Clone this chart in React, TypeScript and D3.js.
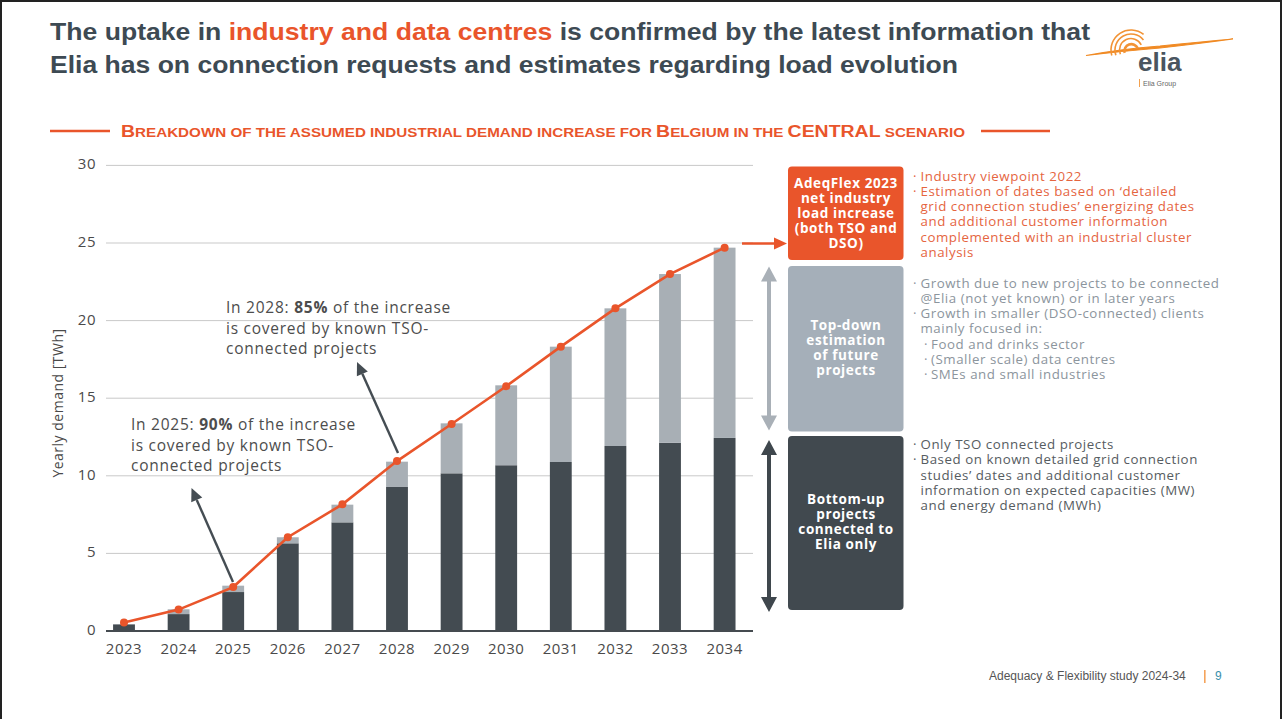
import React from "react";
import * as d3 from "d3";

const years = ["2023","2024","2025","2026","2027","2028","2029","2030","2031","2032","2033","2034"];
const bottomUp = [0.43, 1.09, 2.51, 5.65, 7.0, 9.28, 10.16, 10.68, 10.89, 11.92, 12.13, 12.44];
const barTotal = [0.45, 1.40, 2.92, 6.04, 8.14, 10.91, 13.38, 15.83, 18.32, 20.79, 23.0, 24.70];
const netLoad = [0.55, 1.38, 2.83, 6.04, 8.16, 10.95, 13.34, 15.77, 18.32, 20.79, 23.0, 24.7];
const yTicks = [0, 5, 10, 15, 20, 25, 30];

const ORANGE = "#e9552b";
const DARK = "#434b51";
const LIGHT = "#a8afb5";
const FONT = "'Open Sans', sans-serif";
const TITLE_FONT = "'Liberation Sans', Arial, sans-serif";

const boxTexts = {
  orange: ["AdeqFlex 2023", "net industry", "load increase", "(both TSO and", "DSO)"],
  gray: ["Top-down", "estimation", "of future", "projects"],
  dark: ["Bottom-up", "projects", "connected to", "Elia only"],
};
const notesOrange = [
  { b: 1, t: "Industry viewpoint 2022" },
  { b: 1, t: "Estimation of dates based on \u2018detailed" },
  { b: 0, t: "grid connection studies\u2019 energizing dates" },
  { b: 0, t: "and additional customer information" },
  { b: 0, t: "complemented with an industrial cluster" },
  { b: 0, t: "analysis" },
];
const notesGray = [
  { b: 1, t: "Growth due to new projects to be connected" },
  { b: 0, t: "@Elia (not yet known) or in later years" },
  { b: 1, t: "Growth in smaller (DSO-connected) clients" },
  { b: 0, t: "mainly focused in:" },
  { b: 2, t: "Food and drinks sector" },
  { b: 2, t: "(Smaller scale) data centres" },
  { b: 2, t: "SMEs and small industries" },
];
const notesDark = [
  { b: 1, t: "Only TSO connected projects" },
  { b: 1, t: "Based on known detailed grid connection" },
  { b: 0, t: "studies\u2019 dates and additional customer" },
  { b: 0, t: "information on expected capacities (MW)" },
  { b: 0, t: "and energy demand (MWh)" },
];

export default function App() {
  const x = d3.scaleBand<string>().domain(years).range([96.7, 751.9]).paddingInner(0.6).paddingOuter(0.3);
  const y = d3.scaleLinear().domain([0, 30]).range([631, 165.4]);
  const data = years.map((yr, i) => ({ year: yr, bottom: bottomUp[i], top: barTotal[i] - bottomUp[i] }));
  const stack = d3.stack<any>().keys(["bottom", "top"])(data);
  const line = d3.line<number>().x((_, i) => (x(years[i]) as number) + x.bandwidth() / 2).y((d) => y(d));
  const bw = x.bandwidth();

  const noteLines = (notes: { b: number; t: string }[], y0: number, color: string) =>
    notes.map((n, i) => {
      const yy = y0 + i * 15.2;
      const sub = n.b === 2;
      return (
        <g key={i} fill={color} fontFamily={FONT} fontSize={13.3} letterSpacing={0.55}>
          {n.b ? <text x={sub ? 924 : 913} y={yy} dominantBaseline="middle">·</text> : null}
          <text x={sub ? 931 : 920.5} y={yy} dominantBaseline="middle">{n.t}</text>
        </g>
      );
    });

  const boxLabel = (lines: string[], cy: number) =>
    lines.map((l, i) => (
      <text key={i} x={846} y={cy + (i - (lines.length - 1) / 2) * 15} textAnchor="middle" dominantBaseline="middle"
        fill="#fff" fontFamily={FONT} fontWeight={700} fontSize={13.5} letterSpacing={0.6}>{l}</text>
    ));

  const dbl = (xc: number, y1: number, y2: number, color: string) => {
    const hw = 8, hl = 15, sw = 2;
    const p = `M${xc},${y1} L${xc + hw},${y1 + hl} L${xc + sw},${y1 + hl} L${xc + sw},${y2 - hl} L${xc + hw},${y2 - hl} L${xc},${y2} L${xc - hw},${y2 - hl} L${xc - sw},${y2 - hl} L${xc - sw},${y1 + hl} L${xc - hw},${y1 + hl} Z`;
    return <path d={p} fill={color} />;
  };

  const arrow = (x1: number, y1: number, x2: number, y2: number) => {
    const a = Math.atan2(y2 - y1, x2 - x1);
    const hl = 13, hw = 6;
    const bx = x2 - hl * Math.cos(a), by = y2 - hl * Math.sin(a);
    const px = -Math.sin(a) * hw, py = Math.cos(a) * hw;
    return (
      <g>
        <line x1={x1} y1={y1} x2={bx} y2={by} stroke="#454d53" strokeWidth={2.4} />
        <path d={`M${x2},${y2} L${bx + px},${by + py} L${bx - px},${by - py} Z`} fill="#454d53" />
      </g>
    );
  };

  const subtitleParts: [string, boolean][] = [
    ["B", true], ["reakdown of the assumed industrial demand increase for ", false], ["B", true], ["elgium in the ", false],
    ["CENTRAL", true], [" scenario", false],
  ];

  const arcs = [7, 11.5, 16, 20].map((r, i) => {
    const cx = 1131, cy = 50;
    const a0 = ((155 + i * 3) * Math.PI) / 180, a1 = ((345 - i * 12) * Math.PI) / 180;
    return (
      <path key={i} d={`M${cx + r * Math.cos(a0)},${cy + r * Math.sin(a0)} A${r},${r} 0 0 1 ${cx + r * Math.cos(a1)},${cy + r * Math.sin(a1)}`}
        fill="none" stroke="#f29335" strokeWidth={i === 0 ? 2.6 : 1.6} />
    );
  });

  return (
    <svg width={1282} height={719} style={{ position: "absolute", left: 0, top: 0, background: "#fff" }}>
      <rect x={1} y={1} width={1280} height={740} fill="#fff" stroke="#222" strokeWidth={2} />
      {/* Title */}
      <text x={50} y={40} fontFamily={TITLE_FONT} fontWeight={700} fontSize={24.5} fill="#3d4a53" textLength={1040} lengthAdjust="spacingAndGlyphs">
        The uptake in <tspan fill={ORANGE}>industry and data centres</tspan> is confirmed by the latest information that
      </text>
      <text x={50} y={73} fontFamily={TITLE_FONT} fontWeight={700} fontSize={24.5} fill="#3d4a53" textLength={908} lengthAdjust="spacingAndGlyphs">
        Elia has on connection requests and estimates regarding load evolution
      </text>
      {/* Logo */}
      <g>
        <path d="M1086,55.5 Q1120,49 1160,46 Q1200,42 1233,39 Q1200,43.5 1160,48 Q1120,51.5 1086,55.5 Z" stroke="#f08a24" strokeWidth={1.2} fill="#f08a24" />
        {arcs}
        <text x={1138} y={71} fontFamily={TITLE_FONT} fontWeight={700} fontSize={26} fill="#4a5560">elia</text>
        <rect x={1139} y={79} width={0.8} height={8} fill="#f08a24" />
        <text x={1143} y={86} fontFamily={TITLE_FONT} fontSize={7} fill="#666">Elia Group</text>
      </g>
      {/* Subtitle */}
      <line x1={50} y1={131} x2={110} y2={131} stroke={ORANGE} strokeWidth={2.5} />
      <line x1={981} y1={131} x2={1050} y2={131} stroke={ORANGE} strokeWidth={2.5} />
      <text x={121} y={137} fontFamily={TITLE_FONT} fontWeight={700} fill={ORANGE} textLength={844} lengthAdjust="spacingAndGlyphs">
        {subtitleParts.map(([t, big], i) => (
          <tspan key={i} fontSize={big ? 16 : 12.5}>{big ? t : t.toUpperCase()}</tspan>
        ))}
      </text>
      {/* Grid */}
      {yTicks.map((t) => (
        <g key={t}>
          {t > 0 && <line x1={106} x2={753} y1={y(t)} y2={y(t)} stroke="#c9c9c9" strokeWidth={1} />}
          <text x={96} y={y(t)} textAnchor="end" dominantBaseline="middle" fontFamily={FONT} fontSize={15} letterSpacing={0.5} fill="#4a4a4a">{t}</text>
        </g>
      ))}
      <text transform={`translate(59,403) rotate(-90)`} textAnchor="middle" dominantBaseline="middle" fontFamily={FONT} fontSize={14} letterSpacing={0.5} fill="#4a4a4a">Yearly demand [TWh]</text>
      {/* Bars */}
      {stack.map((s, si) => (
        <g key={si} fill={si === 0 ? DARK : LIGHT}>
          {s.map((d: any, i: number) => (
            <rect key={i} x={x(years[i])} width={bw} y={y(d[1])} height={Math.max(0, y(d[0]) - y(d[1]))} />
          ))}
        </g>
      ))}
      <line x1={106} x2={753} y1={y(0)} y2={y(0)} stroke="#454b50" strokeWidth={2.2} />
      {years.map((yr) => (
        <text key={yr} x={(x(yr) as number) + bw / 2} y={650} textAnchor="middle" dominantBaseline="middle" fontFamily={FONT} fontSize={15} letterSpacing={0.5} fill="#4a4a4a">{yr}</text>
      ))}
      {/* Line */}
      <path d={line(netLoad) as string} fill="none" stroke={ORANGE} strokeWidth={2.6} />
      {netLoad.map((v, i) => (
        <circle key={i} cx={(x(years[i]) as number) + bw / 2} cy={y(v)} r={4} fill={ORANGE} />
      ))}
      {/* Annotations */}
      <g fontFamily={FONT} fontSize={15.5} fill="#4d4d4d" letterSpacing={0.75}>
        <text x={226} y={309} dominantBaseline="middle">In 2028: <tspan fontWeight={700}>85%</tspan> of the increase</text>
        <text x={226} y={329.5} dominantBaseline="middle">is covered by known TSO-</text>
        <text x={226} y={350} dominantBaseline="middle">connected projects</text>
        <text x={131} y={426} dominantBaseline="middle">In 2025: <tspan fontWeight={700}>90%</tspan> of the increase</text>
        <text x={131} y={446.5} dominantBaseline="middle">is covered by known TSO-</text>
        <text x={131} y={467} dominantBaseline="middle">connected projects</text>
      </g>
      {arrow(233, 582, 191.5, 488)}
      {arrow(398, 453, 357, 362)}
      {/* Right arrows */}
      <line x1={742} y1={243.5} x2={776} y2={243.5} stroke={ORANGE} strokeWidth={2.6} />
      <path d="M787,243.5 L774,237.5 L774,249.5 Z" fill={ORANGE} />
      {dbl(769, 266.5, 430.5, "#a9b0b7")}
      {dbl(769, 440, 612, "#3f474d")}
      {/* Boxes */}
      <rect x={788} y={166.5} width={115.5} height={93.5} rx={4} fill={ORANGE} />
      <rect x={788} y={266} width={115.5} height={165.5} rx={4} fill="#a5afb9" />
      <rect x={788} y={436} width={115.5} height={174} rx={4} fill="#41494f" />
      {boxLabel(boxTexts.orange, 214)}
      {boxLabel(boxTexts.gray, 349)}
      {boxLabel(boxTexts.dark, 523)}
      {noteLines(notesOrange, 177.3, "#e5653f")}
      {noteLines(notesGray, 284.3, "#8c959d")}
      {noteLines(notesDark, 445.7, "#565c61")}
      {/* Footer */}
      <text x={989} y={680} fontFamily={TITLE_FONT} fontSize={12} fill="#555">Adequacy &amp; Flexibility study 2024-34</text>
      <rect x={1204} y={670} width={1.6} height={13} fill="#f5a45c" />
      <text x={1215} y={680} fontFamily={TITLE_FONT} fontSize={12} fill="#3a8fab">9</text>
    </svg>
  );
}
